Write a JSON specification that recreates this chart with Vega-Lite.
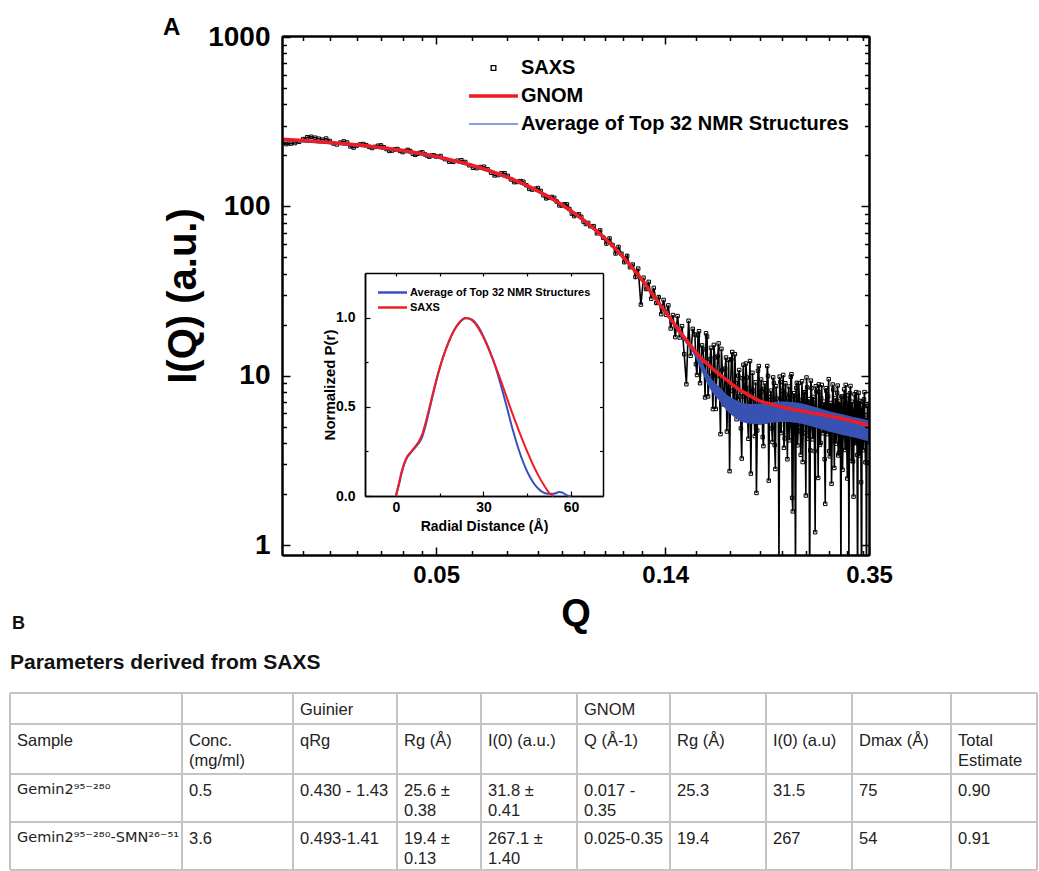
{
"$schema": "https://vega.github.io/schema/vega-lite/v6.json",
"width": 587, "height": 519,
"autosize": {"type": "none"},
"padding": {"left": 282, "top": 36, "right": 170, "bottom": 316},
"background": "white",
"config": {"view": {"stroke": null}, "font": "Liberation Sans", "axis": {"grid": false, "labelFlush": false, "labelOverlap": false}},
"title": {"text": "A", "anchor": "start", "frame": "group", "dx": -119, "dy": 17, "offset": 0, "font": "Liberation Sans", "fontSize": 24, "fontWeight": "bold", "color": "#000"},
"datasets": {
"saxs": [
{"q":0.025,"i":236.4},{"q":0.0255,"i":233.1},{"q":0.026,"i":234.8},{"q":0.0265,"i":236.5},{"q":0.027,"i":240.7},{"q":0.0275,"i":249.6},{"q":0.028,"i":256.1},{"q":0.0285,"i":257.6},{"q":0.029,"i":254.3},{"q":0.0295,"i":251.0},{"q":0.03,"i":247.6},{"q":0.0305,"i":251.5},{"q":0.031,"i":243.4},{"q":0.0315,"i":235.2},{"q":0.032,"i":232.0},{"q":0.0325,"i":238.1},{"q":0.033,"i":241.8},{"q":0.0335,"i":238.5},{"q":0.034,"i":225.8},{"q":0.0345,"i":222.5},{"q":0.035,"i":228.5},{"q":0.0355,"i":232.1},{"q":0.036,"i":233.4},{"q":0.0365,"i":230.0},{"q":0.037,"i":224.4},{"q":0.0375,"i":221.1},{"q":0.038,"i":224.6},{"q":0.0385,"i":228.0},{"q":0.039,"i":229.1},{"q":0.0395,"i":223.5},{"q":0.04,"i":218.0},{"q":0.0405,"i":212.5},{"q":0.041,"i":213.6},{"q":0.0415,"i":216.9},{"q":0.042,"i":218.0},{"q":0.0425,"i":212.5},{"q":0.043,"i":209.2},{"q":0.0435,"i":212.3},{"q":0.044,"i":215.4},{"q":0.0445,"i":212.1},{"q":0.045,"i":204.6},{"q":0.0455,"i":201.5},{"q":0.046,"i":204.4},{"q":0.0465,"i":207.4},{"q":0.047,"i":208.2},{"q":0.0475,"i":202.9},{"q":0.048,"i":199.7},{"q":0.0485,"i":196.5},{"q":0.049,"i":199.3},{"q":0.0495,"i":200.0},
{"q":0.05,"i":196.8},{"q":0.051,"i":198.2},{"q":0.052,"i":190.0},{"q":0.053,"i":183.6},{"q":0.054,"i":183.1},{"q":0.055,"i":186.1},{"q":0.056,"i":187.3},{"q":0.057,"i":182.8},{"q":0.058,"i":174.9},{"q":0.059,"i":168.9},{"q":0.06,"i":168.1},{"q":0.061,"i":170.7},{"q":0.062,"i":171.4},{"q":0.063,"i":165.4},{"q":0.064,"i":158.0},{"q":0.065,"i":152.3},{"q":0.066,"i":153.0},{"q":0.067,"i":156.6},{"q":0.068,"i":156.9},{"q":0.069,"i":151.4},{"q":0.07,"i":144.3},{"q":0.071,"i":139.0},{"q":0.072,"i":139.3},{"q":0.073,"i":141.0},{"q":0.074,"i":139.8},{"q":0.075,"i":133.2},{"q":0.076,"i":126.8},{"q":0.077,"i":125.6},{"q":0.078,"i":127.0},{"q":0.079,"i":128.2},{"q":0.08,"i":123.3},{"q":0.081,"i":116.1},{"q":0.082,"i":111.5},{"q":0.083,"i":112.6},{"q":0.084,"i":113.6},{"q":0.085,"i":112.3},{"q":0.086,"i":106.7},{"q":0.087,"i":101.3},{"q":0.088,"i":101.2},{"q":0.089,"i":102.9},{"q":0.09,"i":102.6},{"q":0.091,"i":96.5},{"q":0.092,"i":90.6},{"q":0.093,"i":87.6},{"q":0.094,"i":89.1},{"q":0.095,"i":89.7},{"q":0.096,"i":86.7},{"q":0.097,"i":81.3},{"q":0.098,"i":78.6},{"q":0.099,"i":79.8},
{"q":0.1,"i":76.3},{"q":0.1015,"i":76.4},{"q":0.103,"i":69.3},{"q":0.1045,"i":72.1},{"q":0.106,"i":65.3},{"q":0.1075,"i":60.3},{"q":0.109,"i":64.6},{"q":0.1105,"i":59.1},{"q":0.112,"i":52.7},{"q":0.1135,"i":57.6},{"q":0.115,"i":52.5},{"q":0.1165,"i":46.8},{"q":0.118,"i":51.0},{"q":0.1195,"i":43.7},{"q":0.121,"i":45.3},{"q":0.1225,"i":38.3},{"q":0.124,"i":42.9},{"q":0.1255,"i":26.3},{"q":0.127,"i":37.9},{"q":0.1285,"i":32.5},{"q":0.13,"i":35.8},{"q":0.1315,"i":28.5},{"q":0.133,"i":33.0},{"q":0.1345,"i":26.9},{"q":0.136,"i":29.1},{"q":0.1375,"i":23.1},{"q":0.139,"i":28.0},{"q":0.1405,"i":22.9},{"q":0.142,"i":26.0},{"q":0.1435,"i":19.0},{"q":0.145,"i":22.8},{"q":0.1465,"i":16.9},{"q":0.148,"i":22.5},{"q":0.1495,"i":16.8},{"q":0.151,"i":19.6},{"q":0.1525,"i":13.4},{"q":0.154,"i":8.9},{"q":0.1555,"i":21.1},{"q":0.157,"i":13.1},{"q":0.1585,"i":18.9},
{"q":0.16,"i":17.5},{"q":0.1615,"i":10.1},{"q":0.163,"i":18.3},{"q":0.1645,"i":11.4},{"q":0.166,"i":14.3},{"q":0.1675,"i":7.44},{"q":0.169,"i":17.0},{"q":0.1705,"i":9.2},{"q":0.172,"i":14.6},{"q":0.1735,"i":6.35},{"q":0.175,"i":12.8},{"q":0.1765,"i":9.98},{"q":0.178,"i":15.5},{"q":0.1795,"i":4.52},{"q":0.181,"i":10.8},{"q":0.1825,"i":6.76},{"q":0.184,"i":12.8},{"q":0.1855,"i":7.86},{"q":0.187,"i":2.73},{"q":0.1885,"i":12.5},{"q":0.19,"i":6.86},{"q":0.1915,"i":13.4},{"q":0.193,"i":5.53},{"q":0.1945,"i":10.0},{"q":0.196,"i":7.54},{"q":0.1975,"i":3.24},{"q":0.199,"i":11.6},{"q":0.2005,"i":5.53},{"q":0.202,"i":9.75},{"q":0.2035,"i":4.24},{"q":0.205,"i":12.2},{"q":0.2065,"i":6.38},{"q":0.208,"i":8.16},{"q":0.2095,"i":4.40},{"q":0.211,"i":2.03},{"q":0.2125,"i":10.7},{"q":0.214,"i":5.30},{"q":0.2155,"i":9.49},{"q":0.217,"i":4.34},{"q":0.2185,"i":8.35},{"q":0.22,"i":6.23},{"q":0.2215,"i":11.4},{"q":0.223,"i":2.40},{"q":0.2245,"i":7.50},{"q":0.226,"i":4.88},{"q":0.2275,"i":9.77},{"q":0.229,"i":3.89},{"q":0.2305,"i":8.67},{"q":0.232,"i":5.64},{"q":0.2335,"i":0.79},{"q":0.235,"i":9.18},{"q":0.2365,"i":6.20},{"q":0.238,"i":10.1},{"q":0.2395,"i":4.26},{"q":0.241,"i":7.72},{"q":0.2425,"i":3.21},{"q":0.244,"i":8.63},{"q":0.2455,"i":5.10},{"q":0.247,"i":10.2},{"q":0.2485,"i":1.58},{"q":0.25,"i":7.88},{"q":0.2515,"i":0.63},{"q":0.253,"i":9.08},{"q":0.2545,"i":4.68},{"q":0.256,"i":7.15},{"q":0.2575,"i":3.41},{"q":0.259,"i":9.27},{"q":0.2605,"i":5.42},{"q":0.262,"i":7.98},{"q":0.2635,"i":1.96},{"q":0.265,"i":8.53},{"q":0.2665,"i":4.25},{"q":0.268,"i":0.54},{"q":0.2695,"i":9.35},{"q":0.271,"i":4.94},{"q":0.2725,"i":7.5},{"q":0.274,"i":3.59},{"q":0.2755,"i":8.66},{"q":0.277,"i":5.47},{"q":0.2785,"i":2.49},{"q":0.28,"i":7.99},{"q":0.2815,"i":4.01},{"q":0.283,"i":8.82},{"q":0.2845,"i":4.57},{"q":0.286,"i":7.02},{"q":0.2875,"i":1.75},{"q":0.289,"i":8.13},{"q":0.2905,"i":4.99},{"q":0.292,"i":9.54},{"q":0.2935,"i":3.34},{"q":0.295,"i":6.61},{"q":0.2965,"i":4.13},{"q":0.298,"i":8.28},{"q":0.2995,"i":2.85},{"q":0.301,"i":7.38},{"q":0.3025,"i":4.98},{"q":0.304,"i":8.74},{"q":0.3055,"i":3.49},{"q":0.307,"i":6.73},{"q":0.3085,"i":0.61},{"q":0.31,"i":7.52},{"q":0.3115,"i":4.44},{"q":0.313,"i":8.30},{"q":0.3145,"i":3.64},{"q":0.316,"i":6.88},{"q":0.3175,"i":2.47},{"q":0.319,"i":7.64},{"q":0.3205,"i":5.00},{"q":0.322,"i":8.69},{"q":0.3235,"i":3.14},{"q":0.325,"i":6.20},{"q":0.3265,"i":1.93},{"q":0.328,"i":7.76},{"q":0.3295,"i":4.01},{"q":0.331,"i":6.92},{"q":0.3325,"i":0.42},{"q":0.334,"i":7.92},{"q":0.3355,"i":3.37},{"q":0.337,"i":6.29},{"q":0.3385,"i":0.37},{"q":0.34,"i":7.02},{"q":0.3415,"i":4.40},{"q":0.343,"i":8.00},{"q":0.3445,"i":3.08},{"q":0.346,"i":0.51},{"q":0.3475,"i":6.63},{"q":0.349,"i":4.07},
{"q":0.16075,"i":11.7},{"q":0.16225,"i":17.3},{"q":0.16375,"i":9.03},{"q":0.16525,"i":15.1},{"q":0.16675,"i":11.6},{"q":0.16825,"i":17.8},{"q":0.16975,"i":7.54},{"q":0.17125,"i":12.5},{"q":0.17275,"i":9.97},{"q":0.17425,"i":15.2},{"q":0.17575,"i":6.36},{"q":0.17725,"i":13.0},{"q":0.17875,"i":8.14},{"q":0.18025,"i":14.4},{"q":0.18175,"i":7.31},{"q":0.18325,"i":11.0},{"q":0.18475,"i":4.68},{"q":0.18625,"i":12.4},{"q":0.18775,"i":8.13},{"q":0.18925,"i":13.8},{"q":0.19075,"i":6.11},{"q":0.19225,"i":9.01},{"q":0.19375,"i":7.17},{"q":0.19525,"i":10.8},{"q":0.19675,"i":4.89},{"q":0.19825,"i":9.66},{"q":0.19975,"i":7.55},{"q":0.20125,"i":11.8},{"q":0.20275,"i":5.58},{"q":0.20425,"i":8.42},{"q":0.20575,"i":2.64},{"q":0.20725,"i":10.4},{"q":0.20875,"i":5.9},{"q":0.21025,"i":9.13},{"q":0.21175,"i":4.75},{"q":0.21325,"i":11.4},{"q":0.21475,"i":6.35},{"q":0.21625,"i":8.06},{"q":0.21775,"i":3.84},{"q":0.21925,"i":9.02},{"q":0.22075,"i":5.38},{"q":0.22225,"i":9.96},{"q":0.22375,"i":6.01},{"q":0.22525,"i":8.16},{"q":0.22675,"i":4.06},{"q":0.22825,"i":9.07},{"q":0.22975,"i":2.81},{"q":0.23125,"i":7.32},{"q":0.23275,"i":6.08},{"q":0.23425,"i":9.87},{"q":0.23575,"i":4.58},{"q":0.23725,"i":8.14},{"q":0.23875,"i":3.75},{"q":0.24025,"i":9.02},{"q":0.24175,"i":5.46},{"q":0.24325,"i":7.36},{"q":0.24475,"i":4.15},{"q":0.24625,"i":9.86},{"q":0.24775,"i":1.9},{"q":0.24925,"i":7.57},{"q":0.25075,"i":5.66},{"q":0.25225,"i":8.46},{"q":0.25375,"i":3.88},{"q":0.25525,"i":9.03},{"q":0.25675,"i":4.97},{"q":0.25825,"i":6.81},{"q":0.25975,"i":3.09},{"q":0.26125,"i":8.0},{"q":0.26275,"i":4.59},{"q":0.26425,"i":9.76},{"q":0.26575,"i":5.35},{"q":0.26725,"i":7.27},{"q":0.26875,"i":3.62},{"q":0.27025,"i":8.43},{"q":0.27175,"i":4.21},{"q":0.27325,"i":6.89},{"q":0.27475,"i":1.19},{"q":0.27625,"i":8.05},{"q":0.27775,"i":5.05},{"q":0.27925,"i":8.88},{"q":0.28075,"i":3.9},{"q":0.28225,"i":7.36},{"q":0.28375,"i":5.28},{"q":0.28525,"i":6.44},{"q":0.28675,"i":3.21},{"q":0.28825,"i":8.44},{"q":0.28975,"i":4.52},{"q":0.29125,"i":7.53},{"q":0.29275,"i":3.58},{"q":0.29425,"i":6.9},{"q":0.29575,"i":2.3},{"q":0.29725,"i":8.87},{"q":0.29875,"i":4.9},{"q":0.30025,"i":6.54},{"q":0.30175,"i":3.97},{"q":0.30325,"i":7.91},{"q":0.30475,"i":3.38},{"q":0.30625,"i":7.03},{"q":0.30775,"i":5.15},{"q":0.30925,"i":7.53},{"q":0.31075,"i":2.78},{"q":0.31225,"i":6.09},{"q":0.31375,"i":4.42},{"q":0.31525,"i":8.82},{"q":0.31675,"i":3.73},{"q":0.31825,"i":6.56},{"q":0.31975,"i":0.82},{"q":0.32125,"i":7.87},{"q":0.32275,"i":4.77},{"q":0.32425,"i":7.02},{"q":0.32575,"i":3.12},{"q":0.32725,"i":6.16},{"q":0.32875,"i":4.0},{"q":0.33025,"i":8.0},{"q":0.33175,"i":3.4},{"q":0.33325,"i":6.61},{"q":0.33475,"i":4.74},{"q":0.33625,"i":7.09},{"q":0.33775,"i":2.35},{"q":0.33925,"i":6.25},{"q":0.34075,"i":3.63},{"q":0.34225,"i":7.24},{"q":0.34375,"i":4.22},{"q":0.34525,"i":5.64},{"q":0.34675,"i":3.07},{"q":0.34825,"i":6.62}
],
"gnom": [
{"q":0.025,"i":248.8},{"q":0.028,"i":243.9},{"q":0.031,"i":238.6},{"q":0.034,"i":232.8},{"q":0.037,"i":226.7},{"q":0.04,"i":220.2},{"q":0.043,"i":213.5},{"q":0.046,"i":206.5},{"q":0.049,"i":199.3},{"q":0.052,"i":191.9},{"q":0.055,"i":184.3},{"q":0.058,"i":176.7},{"q":0.061,"i":169.0},{"q":0.064,"i":161.2},{"q":0.067,"i":153.5},{"q":0.07,"i":145.8},{"q":0.073,"i":138.2},{"q":0.076,"i":130.7},{"q":0.079,"i":123.3},{"q":0.082,"i":116.1},{"q":0.085,"i":109.0},{"q":0.088,"i":102.2},{"q":0.091,"i":95.5},{"q":0.094,"i":89.1},{"q":0.097,"i":83.0},{"q":0.1,"i":77.1},{"q":0.103,"i":71.4},{"q":0.106,"i":66.0},{"q":0.109,"i":60.9},{"q":0.112,"i":56.1},{"q":0.115,"i":51.5},{"q":0.118,"i":47.2},{"q":0.121,"i":43.1},{"q":0.124,"i":39.4},{"q":0.127,"i":35.8},{"q":0.13,"i":32.5},{"q":0.133,"i":29.6},{"q":0.136,"i":26.9},{"q":0.139,"i":24.6},{"q":0.142,"i":22.6},{"q":0.145,"i":20.7},{"q":0.148,"i":19.1},{"q":0.151,"i":17.5},{"q":0.154,"i":16.2},{"q":0.157,"i":15.0},{"q":0.16,"i":14.0},{"q":0.165,"i":12.55},{"q":0.17,"i":11.6},{"q":0.175,"i":10.7},{"q":0.18,"i":10.0},{"q":0.185,"i":9.4},{"q":0.19,"i":8.8},{"q":0.195,"i":8.3},{"q":0.2,"i":7.95},{"q":0.205,"i":7.6},{"q":0.21,"i":7.3},{"q":0.215,"i":7.05},{"q":0.22,"i":6.92},{"q":0.23,"i":6.68},{"q":0.24,"i":6.45},{"q":0.25,"i":6.3},{"q":0.26,"i":6.17},{"q":0.27,"i":6.03},{"q":0.28,"i":5.92},{"q":0.29,"i":5.81},{"q":0.3,"i":5.7},{"q":0.31,"i":5.57},{"q":0.32,"i":5.45},{"q":0.33,"i":5.33},{"q":0.34,"i":5.2},{"q":0.35,"i":5.08}
],
"nmr": [
{"q":0.025,"m":245.1,"lo":242.6,"hi":247.6},{"q":0.03,"m":236.8,"lo":234.4,"hi":239.2},{"q":0.035,"m":227.3,"lo":225.0,"hi":229.6},{"q":0.04,"m":216.9,"lo":214.7,"hi":219.1},{"q":0.045,"m":205.7,"lo":203.6,"hi":207.8},{"q":0.05,"m":193.8,"lo":191.9,"hi":195.7},{"q":0.055,"m":181.5,"lo":179.7,"hi":183.3},{"q":0.06,"m":168.9,"lo":167.2,"hi":170.6},{"q":0.065,"m":156.2,"lo":154.6,"hi":157.8},{"q":0.07,"m":143.6,"lo":142.2,"hi":145.0},{"q":0.075,"m":131.2,"lo":129.9,"hi":132.5},{"q":0.08,"m":119.1,"lo":117.9,"hi":120.3},{"q":0.085,"m":107.4,"lo":106.3,"hi":108.5},{"q":0.09,"m":96.2,"lo":95.2,"hi":97.2},{"q":0.095,"m":85.8,"lo":84.9,"hi":86.7},{"q":0.1,"m":75.9,"lo":75.1,"hi":76.7},{"q":0.105,"m":66.8,"lo":66.1,"hi":67.5},{"q":0.11,"m":58.4,"lo":57.8,"hi":59.0},{"q":0.115,"m":50.7,"lo":50.2,"hi":51.2},{"q":0.12,"m":43.8,"lo":43.4,"hi":44.2},{"q":0.125,"m":37.6,"lo":37.2,"hi":38.0},{"q":0.13,"m":32.0,"lo":31.7,"hi":32.3},{"q":0.136,"m":26.5,"lo":26.1,"hi":26.9},{"q":0.142,"m":22.2,"lo":21.8,"hi":22.6},{"q":0.148,"m":18.6,"lo":18.1,"hi":19.1},{"q":0.154,"m":15.9,"lo":15.4,"hi":16.5},{"q":0.1586,"m":14.3,"lo":13.6,"hi":15.0},{"q":0.1636,"m":11.9,"lo":11.2,"hi":12.7},{"q":0.1711,"m":9.1,"lo":8.39,"hi":9.87},{"q":0.178,"m":7.9,"lo":7.18,"hi":8.69},{"q":0.1848,"m":6.92,"lo":6.21,"hi":7.72},{"q":0.1915,"m":6.4,"lo":5.66,"hi":7.23},{"q":0.1985,"m":6.04,"lo":5.30,"hi":6.89},{"q":0.206,"m":5.95,"lo":5.20,"hi":6.81},{"q":0.2142,"m":5.95,"lo":5.17,"hi":6.84},{"q":0.223,"m":6.03,"lo":5.24,"hi":6.93},{"q":0.2312,"m":6.1,"lo":5.30,"hi":7.02},{"q":0.24,"m":6.12,"lo":5.32,"hi":7.04},{"q":0.2485,"m":6.08,"lo":5.29,"hi":6.99},{"q":0.258,"m":5.98,"lo":5.20,"hi":6.88},{"q":0.2682,"m":5.8,"lo":5.04,"hi":6.67},{"q":0.279,"m":5.6,"lo":4.87,"hi":6.44},{"q":0.2895,"m":5.42,"lo":4.71,"hi":6.23},{"q":0.3015,"m":5.25,"lo":4.57,"hi":6.04},{"q":0.3139,"m":5.1,"lo":4.43,"hi":5.87},{"q":0.325,"m":4.98,"lo":4.33,"hi":5.73},{"q":0.3359,"m":4.87,"lo":4.23,"hi":5.60},{"q":0.35,"m":4.72,"lo":4.10,"hi":5.43}
],
"prs": [
{"r":0,"p":0},{"r":1,"p":0.07},{"r":2,"p":0.14},{"r":3,"p":0.19},{"r":4,"p":0.225},{"r":5,"p":0.245},{"r":6,"p":0.265},{"r":7,"p":0.285},{"r":8,"p":0.31},{"r":9,"p":0.345},{"r":10,"p":0.40},{"r":12,"p":0.53},{"r":14,"p":0.66},{"r":16,"p":0.77},{"r":18,"p":0.86},{"r":20,"p":0.93},{"r":22,"p":0.978},{"r":23.5,"p":0.997},{"r":25,"p":0.995},{"r":27,"p":0.97},{"r":29,"p":0.92},{"r":31,"p":0.855},{"r":33,"p":0.775},{"r":35,"p":0.69},{"r":37,"p":0.60},{"r":39,"p":0.505},{"r":41,"p":0.415},{"r":43,"p":0.33},{"r":45,"p":0.25},{"r":47,"p":0.175},{"r":49,"p":0.11},{"r":51,"p":0.055},{"r":53,"p":0.01},{"r":54,"p":0}
],
"prn": [
{"r":0,"p":0},{"r":1,"p":0.06},{"r":2,"p":0.13},{"r":3,"p":0.185},{"r":4,"p":0.22},{"r":5,"p":0.24},{"r":6,"p":0.26},{"r":7,"p":0.28},{"r":8,"p":0.30},{"r":9,"p":0.33},{"r":10,"p":0.385},{"r":12,"p":0.52},{"r":14,"p":0.655},{"r":16,"p":0.77},{"r":18,"p":0.86},{"r":20,"p":0.93},{"r":22,"p":0.975},{"r":24,"p":0.998},{"r":26,"p":0.99},{"r":28,"p":0.955},{"r":30,"p":0.895},{"r":32,"p":0.82},{"r":34,"p":0.73},{"r":36,"p":0.62},{"r":38,"p":0.50},{"r":40,"p":0.375},{"r":42,"p":0.265},{"r":44,"p":0.175},{"r":46,"p":0.105},{"r":48,"p":0.055},{"r":50,"p":0.025},{"r":52,"p":0.012},{"r":54,"p":0.012},{"r":56,"p":0.022},{"r":57,"p":0.02},{"r":58,"p":0.01},{"r":59,"p":0.002},{"r":60,"p":0}
],
"hl": [{"r":0},{"r":1},{"r":2},{"r":3},{"r":4}],
"vl": [{"c":0},{"c":1},{"c":2},{"c":3},{"c":4},{"c":5},{"c":6},{"c":7},{"c":8},{"c":9},{"c":10}],
"cells": [
{"c":2,"r":0,"t":"Guinier"},{"c":5,"r":0,"t":"GNOM"},
{"c":0,"r":1,"t":"Sample"},{"c":1,"r":1,"t":"Conc.\n(mg/ml)"},{"c":2,"r":1,"t":"qRg"},{"c":3,"r":1,"t":"Rg (Å)"},{"c":4,"r":1,"t":"I(0) (a.u.)"},{"c":5,"r":1,"t":"Q (Å-1)"},{"c":6,"r":1,"t":"Rg (Å)"},{"c":7,"r":1,"t":"I(0) (a.u)"},{"c":8,"r":1,"t":"Dmax (Å)"},{"c":9,"r":1,"t":"Total\nEstimate"},
{"c":1,"r":2,"t":"0.5"},{"c":2,"r":2,"t":"0.430 - 1.43"},{"c":3,"r":2,"t":"25.6 ±\n0.38"},{"c":4,"r":2,"t":"31.8 ±\n0.41"},{"c":5,"r":2,"t":"0.017 -\n0.35"},{"c":6,"r":2,"t":"25.3"},{"c":7,"r":2,"t":"31.5"},{"c":8,"r":2,"t":"75"},{"c":9,"r":2,"t":"0.90"},
{"c":1,"r":3,"t":"3.6"},{"c":2,"r":3,"t":"0.493-1.41"},{"c":3,"r":3,"t":"19.4 ±\n0.13"},{"c":4,"r":3,"t":"267.1 ±\n1.40"},{"c":5,"r":3,"t":"0.025-0.35"},{"c":6,"r":3,"t":"19.4"},{"c":7,"r":3,"t":"267"},{"c":8,"r":3,"t":"54"},{"c":9,"r":3,"t":"0.91"}
],
"cellsg": [
{"c":0,"r":2,"t":"Gemin2⁹⁵⁻²⁸⁰"},{"c":0,"r":3,"t":"Gemin2⁹⁵⁻²⁸⁰-SMN²⁶⁻⁵¹"}
],
"panelb": [{"c":0,"r":-2,"t":"B"}],
"tabletitle": [{"c":0,"r":-1,"t":"Parameters derived from SAXS"}]
},
"resolve": {"scale": {"x": "independent", "y": "independent"}, "axis": {"x": "independent", "y": "independent"}},
"layer": [
{
"resolve": {"axis": {"x": "independent", "y": "independent"}},
"layer": [
{"data": {"name": "saxs"}, "mark": {"type": "line", "strokeWidth": 1.6, "clip": true},
"encoding": {
"x": {"field": "q", "type": "quantitative", "scale": {"type": "log", "domain": [0.025, 0.35], "nice": false},
"axis": {"orient": "bottom", "values": [0.05, 0.14, 0.35], "format": ".2f", "labelFont": "Liberation Sans", "labelFontSize": 24, "labelFontWeight": "bold", "labelColor": "#000", "labelPadding": 16, "tickSize": -8, "tickWidth": 1.5, "tickColor": "#000", "domainColor": "#000", "domainWidth": 2, "title": "Q", "titleFont": "Liberation Sans", "titleFontSize": 38, "titleFontWeight": "bold", "titleColor": "#000", "titlePadding": 8, "zindex": 1}},
"y": {"field": "i", "type": "quantitative", "scale": {"type": "log", "domain": [0.873, 1014], "nice": false},
"axis": {"orient": "left", "values": [1, 10, 100, 1000], "format": "d", "labelFont": "Liberation Sans", "labelFontSize": 28, "labelFontWeight": "bold", "labelColor": "#000", "labelPadding": 20, "tickSize": -8, "tickWidth": 1.5, "tickColor": "#000", "domainColor": "#000", "domainWidth": 2, "title": "I(Q) (a.u.)", "titleFont": "Liberation Sans", "titleFontSize": 40, "titleFontWeight": "bold", "titleColor": "#000", "titlePadding": 4, "zindex": 1}},
"color": {"datum": "SAXS", "type": "nominal",
"scale": {"domain": ["SAXS", "GNOM", "Average of Top 32 NMR Structures"], "range": ["#000000", "#ee1d23", "#6a7bd6"]},
"legend": {"orient": "none", "legendX": 201.5, "legendY": 22, "title": null, "padding": 0, "symbolType": "stroke", "symbolSize": 2401, "symbolStrokeWidth": 1.5, "labelFont": "Liberation Sans", "labelFontSize": 20, "labelFontWeight": "bold", "labelColor": "#000", "labelOffset": 17.5, "labelLimit": 600, "rowPadding": 8,
"encode": {"symbols": {"update": {"shape": {"signal": "datum.value === 'SAXS' ? 'square' : 'stroke'"}, "size": {"signal": "datum.value === 'SAXS' ? 22 : 2401"}, "strokeWidth": {"signal": "datum.value === 'GNOM' ? 3.5 : datum.value === 'SAXS' ? 1.3 : 1.5"}, "fill": {"value": "transparent"}, "opacity": {"value": 1}}}}}}
}},
{"data": {"name": "saxs"}, "mark": {"type": "point", "shape": "square", "filled": false, "size": 12, "strokeWidth": 1, "clip": true, "opacity": 1},
"encoding": {
"x": {"field": "q", "type": "quantitative", "scale": {"type": "log", "domain": [0.025, 0.35], "nice": false},
"axis": {"orient": "bottom", "values": [0.0275, 0.031, 0.035, 0.039, 0.043, 0.047, 0.0587, 0.0687, 0.079, 0.088, 0.097, 0.107, 0.116, 0.126, 0.161, 0.187, 0.214, 0.237, 0.264, 0.293, 0.317, 0.341], "labels": false, "tickSize": -4.5, "tickWidth": 1.5, "tickColor": "#000", "domainColor": "#000", "domainWidth": 2, "title": null, "zindex": 1}},
"y": {"field": "i", "type": "quantitative", "scale": {"type": "log", "domain": [0.873, 1014], "nice": false},
"axis": {"orient": "left", "values": [2,3,4,5,6,7,8,9,20,30,40,50,60,70,80,90,200,300,400,500,600,700,800,900], "labels": false, "tickSize": -4.5, "tickWidth": 1.5, "tickColor": "#000", "domainColor": "#000", "domainWidth": 2, "title": null, "zindex": 1}},
"color": {"datum": "SAXS", "type": "nominal"}
}},
{"data": {"name": "nmr"}, "mark": {"type": "area", "interpolate": "monotone", "opacity": 1, "clip": true},
"encoding": {
"x": {"field": "q", "type": "quantitative", "scale": {"type": "log", "domain": [0.025, 0.35], "nice": false},
"axis": {"orient": "top", "values": [0.05, 0.14, 0.35], "labels": false, "tickSize": -8, "tickWidth": 1.5, "tickColor": "#000", "domainColor": "#000", "domainWidth": 2, "title": null, "zindex": 1}},
"y": {"field": "lo", "type": "quantitative", "scale": {"type": "log", "domain": [0.873, 1014], "nice": false},
"axis": {"orient": "right", "values": [1, 10, 100, 1000], "labels": false, "tickSize": -8, "tickWidth": 1.5, "tickColor": "#000", "domainColor": "#000", "domainWidth": 2, "title": null, "zindex": 1}},
"y2": {"field": "hi"},
"color": {"datum": "Average of Top 32 NMR Structures", "type": "nominal"},
"fill": {"value": "#3752b3"}
}},
{"data": {"name": "nmr"}, "mark": {"type": "line", "interpolate": "monotone", "strokeWidth": 1.3, "clip": true, "color": "#3752b3"},
"encoding": {
"x": {"field": "q", "type": "quantitative", "scale": {"type": "log", "domain": [0.025, 0.35], "nice": false},
"axis": {"orient": "top", "values": [0.0275, 0.031, 0.035, 0.039, 0.043, 0.047, 0.0587, 0.0687, 0.079, 0.088, 0.097, 0.107, 0.116, 0.126, 0.161, 0.187, 0.214, 0.237, 0.264, 0.293, 0.317, 0.341], "labels": false, "tickSize": -4.5, "tickWidth": 1.5, "tickColor": "#000", "domainColor": "#000", "domainWidth": 2, "title": null, "zindex": 1}},
"y": {"field": "m", "type": "quantitative", "scale": {"type": "log", "domain": [0.873, 1014], "nice": false},
"axis": {"orient": "right", "values": [2,3,4,5,6,7,8,9,20,30,40,50,60,70,80,90,200,300,400,500,600,700,800,900], "labels": false, "tickSize": -4.5, "tickWidth": 1.5, "tickColor": "#000", "domainColor": "#000", "domainWidth": 2, "title": null, "zindex": 1}}
}},
{"data": {"name": "gnom"}, "mark": {"type": "line", "interpolate": "monotone", "strokeWidth": 3.5, "clip": true},
"encoding": {
"x": {"field": "q", "type": "quantitative", "scale": {"type": "log", "domain": [0.025, 0.35], "nice": false}, "axis": null},
"y": {"field": "i", "type": "quantitative", "scale": {"type": "log", "domain": [0.873, 1014], "nice": false}, "axis": null},
"color": {"datum": "GNOM", "type": "nominal"}
}}
]
},
{
"resolve": {"axis": {"x": "independent", "y": "independent"}},
"layer": [
{"data": {"name": "prn"}, "mark": {"type": "line", "interpolate": "monotone", "strokeWidth": 2},
"encoding": {
"x": {"field": "r", "type": "quantitative", "scale": {"domain": [-10.6, 71], "range": [83, 321], "nice": false, "zero": false},
"axis": {"orient": "bottom", "offset": -59, "values": [0, 30, 60], "format": "d", "labelFont": "Liberation Sans", "labelFontSize": 14, "labelFontWeight": "bold", "labelColor": "#000", "labelPadding": 9, "tickSize": -5, "tickWidth": 1.2, "tickColor": "#000", "domainColor": "#000", "domainWidth": 1.5, "title": "Radial Distance (Å)", "titleFont": "Liberation Sans", "titleFontSize": 14, "titleFontWeight": "bold", "titleColor": "#000", "titlePadding": 5}},
"y": {"field": "p", "type": "quantitative", "scale": {"domain": [0, 1.25], "range": [460, 237], "nice": false, "zero": false},
"axis": {"orient": "left", "offset": -83, "values": [0, 0.5, 1], "format": ".1f", "labelFont": "Liberation Sans", "labelFontSize": 14, "labelFontWeight": "bold", "labelColor": "#000", "labelPadding": 15, "tickSize": -5, "tickWidth": 1.2, "tickColor": "#000", "domainColor": "#000", "domainWidth": 1.5, "title": "Normalized P(r)", "titleFont": "Liberation Sans", "titleFontSize": 15, "titleFontWeight": "bold", "titleColor": "#000", "titlePadding": -2}},
"stroke": {"datum": "Average of Top 32 NMR Structures", "type": "nominal",
"scale": {"domain": ["Average of Top 32 NMR Structures", "SAXS"], "range": ["#3b4fc2", "#ee1d23"]},
"legend": {"orient": "none", "legendX": 94.5, "legendY": 249, "title": null, "padding": 0, "symbolType": "stroke", "symbolSize": 841, "symbolStrokeWidth": 2.5, "labelFont": "Liberation Sans", "labelFontSize": 11, "labelFontWeight": "bold", "labelColor": "#000", "labelOffset": 1.5, "labelLimit": 400, "rowPadding": 0, "clipHeight": 15}}
}},
{"data": {"name": "prs"}, "mark": {"type": "line", "interpolate": "monotone", "strokeWidth": 2},
"encoding": {
"x": {"field": "r", "type": "quantitative", "scale": {"domain": [-10.6, 71], "range": [83, 321], "nice": false, "zero": false},
"axis": {"orient": "bottom", "offset": -59, "values": [15, 45], "labels": false, "tickSize": -3, "tickWidth": 1.2, "tickColor": "#000", "domainColor": "#000", "domainWidth": 1.5, "title": null}},
"y": {"field": "p", "type": "quantitative", "scale": {"domain": [0, 1.25], "range": [460, 237], "nice": false, "zero": false},
"axis": {"orient": "left", "offset": -83, "values": [0.25, 0.75], "labels": false, "tickSize": -3, "tickWidth": 1.2, "tickColor": "#000", "domainColor": "#000", "domainWidth": 1.5, "title": null}},
"stroke": {"datum": "SAXS", "type": "nominal"}
}},
{"data": {"name": "prs"}, "mark": {"type": "line", "opacity": 0},
"encoding": {
"x": {"field": "r", "type": "quantitative", "scale": {"domain": [-10.6, 71], "range": [83, 321], "nice": false, "zero": false},
"axis": {"orient": "top", "offset": -237, "values": [0, 15, 30, 45, 60], "labels": false, "tickSize": -3, "tickWidth": 1.2, "tickColor": "#000", "domainColor": "#000", "domainWidth": 1.5, "title": null}},
"y": {"field": "p", "type": "quantitative", "scale": {"domain": [0, 1.25], "range": [460, 237], "nice": false, "zero": false},
"axis": {"orient": "right", "offset": -266, "values": [0.25, 0.5, 0.75, 1], "labels": false, "tickSize": -3.5, "tickWidth": 1.2, "tickColor": "#000", "domainColor": "#000", "domainWidth": 1.5, "title": null}}
}}
]
},
{
"layer": [
{"data": {"name": "hl"}, "mark": {"type": "rule", "color": "#c4c4c4", "strokeWidth": 2},
"encoding": {
"y": {"field": "r", "type": "quantitative", "scale": {"domain": [-2, -1, 0, 1, 2, 3, 4], "range": [588, 627, 657, 688, 738, 786, 834], "nice": false, "zero": false}, "axis": null},
"x": {"datum": 0, "type": "quantitative", "scale": {"domain": [0,1,2,3,4,5,6,7,8,9,10], "range": [-272,-100,11,115,199,295,388,484,570,669,755], "nice": false, "zero": false}, "axis": null},
"x2": {"datum": 10}
}},
{"data": {"name": "vl"}, "mark": {"type": "rule", "color": "#c4c4c4", "strokeWidth": 2},
"encoding": {
"x": {"field": "c", "type": "quantitative", "axis": null},
"y": {"datum": 0, "type": "quantitative", "axis": null},
"y2": {"datum": 4}
}},
{"data": {"name": "cells"}, "mark": {"type": "text", "align": "left", "baseline": "top", "dx": 7, "dy": 9, "font": "Liberation Sans", "fontSize": 16.5, "lineBreak": "\n", "lineHeight": 20, "color": "#222"},
"encoding": {
"x": {"field": "c", "type": "quantitative", "axis": null},
"y": {"field": "r", "type": "quantitative", "axis": null},
"text": {"field": "t"}
}},
{"data": {"name": "cellsg"}, "mark": {"type": "text", "align": "left", "baseline": "top", "dx": 7, "dy": 9, "font": "DejaVu Sans", "fontSize": 14.5, "color": "#222"},
"encoding": {
"x": {"field": "c", "type": "quantitative", "axis": null},
"y": {"field": "r", "type": "quantitative", "axis": null},
"text": {"field": "t"}
}},
{"data": {"name": "panelb"}, "mark": {"type": "text", "align": "left", "baseline": "middle", "dx": 2, "font": "Liberation Sans", "fontSize": 18, "fontWeight": "bold", "color": "#111"},
"encoding": {
"x": {"field": "c", "type": "quantitative", "axis": null},
"y": {"field": "r", "type": "quantitative", "axis": null},
"text": {"field": "t"}
}},
{"data": {"name": "tabletitle"}, "mark": {"type": "text", "align": "left", "baseline": "middle", "dx": 0, "font": "Liberation Sans", "fontSize": 21, "fontWeight": "bold", "color": "#111"},
"encoding": {
"x": {"field": "c", "type": "quantitative", "axis": null},
"y": {"field": "r", "type": "quantitative", "axis": null},
"text": {"field": "t"}
}}
]
}
]
}
